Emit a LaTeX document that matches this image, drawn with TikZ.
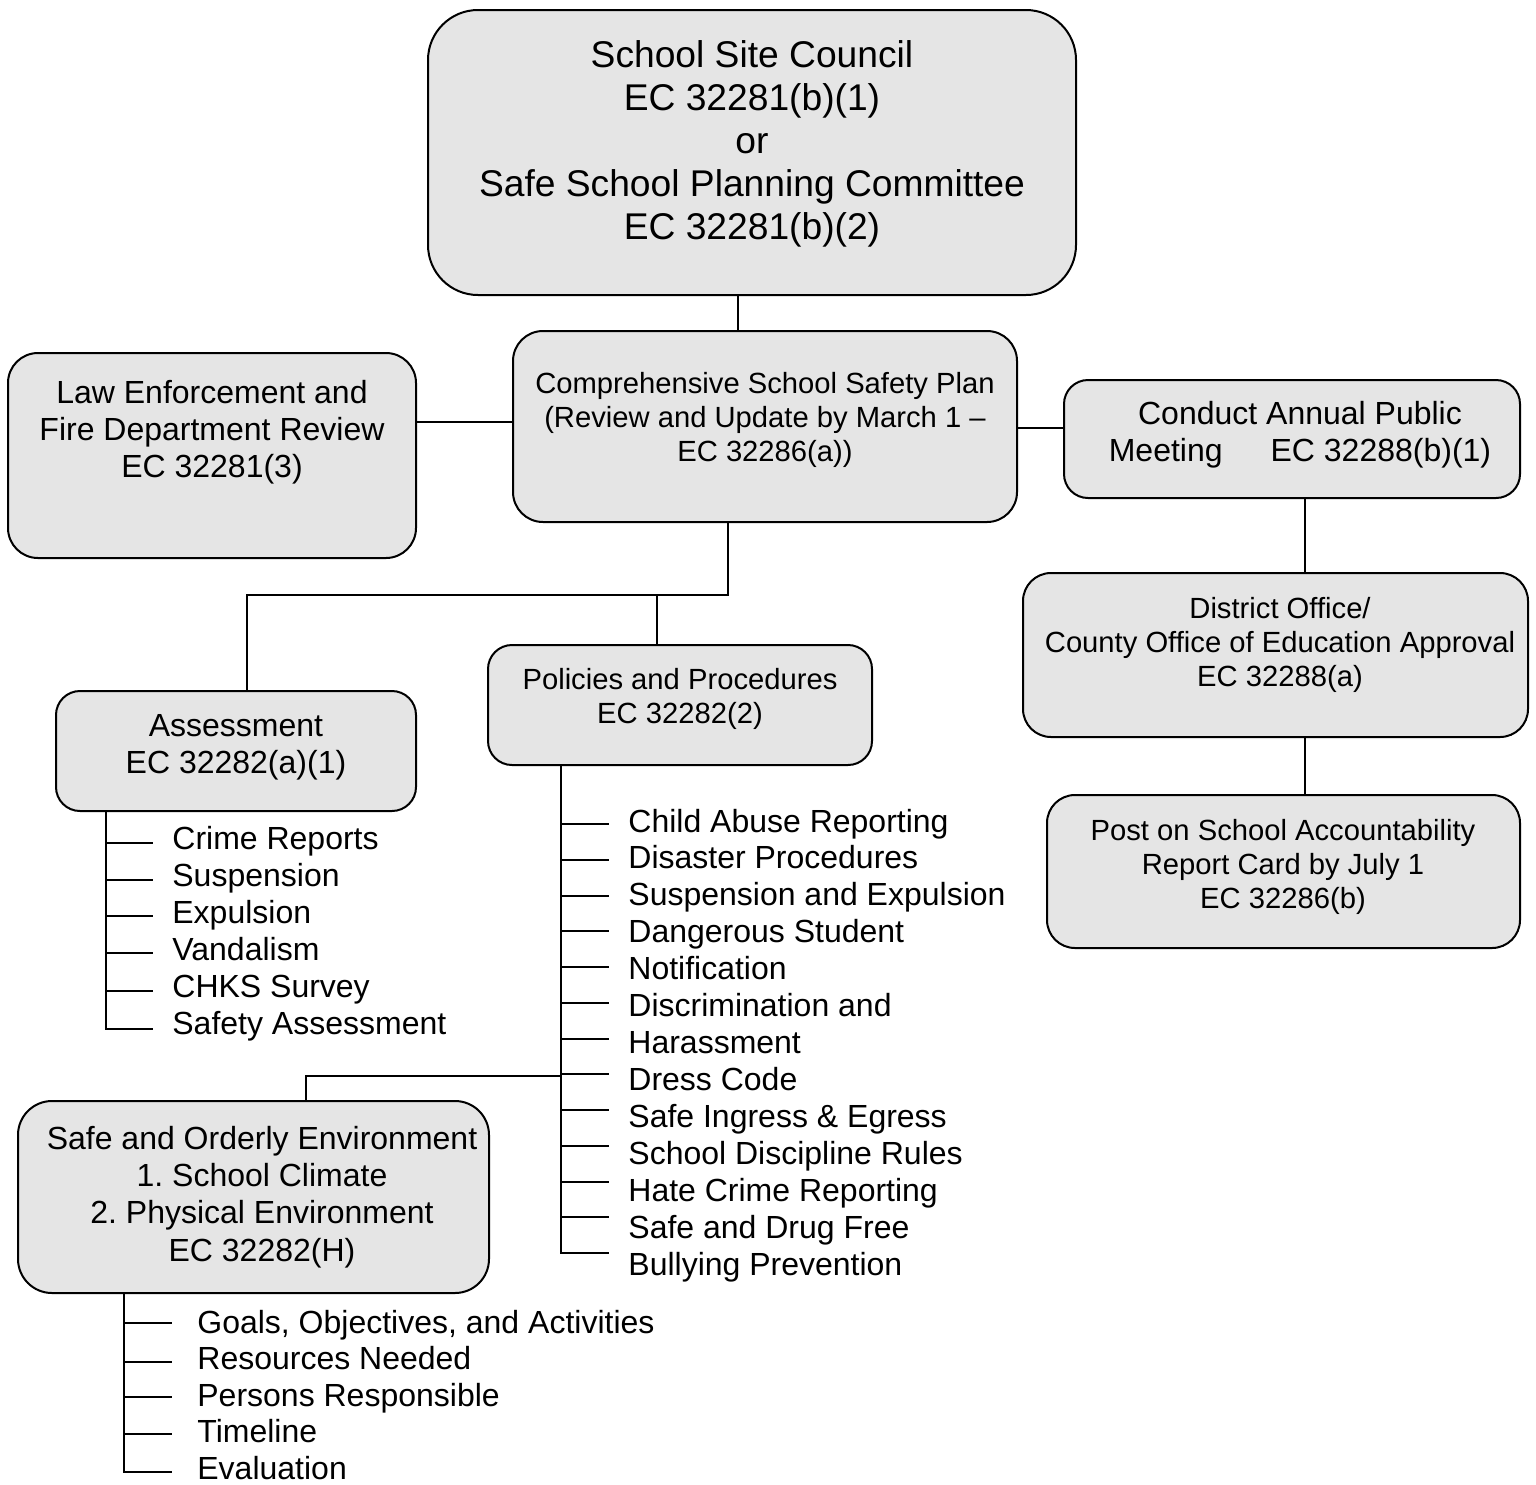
\documentclass[tikz,border=0pt]{standalone}
\usepackage{fontspec}
\setmainfont{Liberation Sans}
\definecolor{boxgray}{RGB}{229,229,229}
\frenchspacing
\begin{document}
\begin{tikzpicture}[x=0.5pt,y=-0.5pt,
  box/.style={draw=black,line width=1pt,fill=boxgray,rounded corners=#1,inner sep=0pt,outer sep=0pt,shape=rectangle},
  box/.default=12pt,
  tL/.style={font=\fontsize{18.6}{21.5}\selectfont,align=center,inner sep=0pt},
  tM/.style={font=\fontsize{16}{18.6}\selectfont,align=center,inner sep=0pt},
  tS/.style={font=\fontsize{14.6}{17}\selectfont,align=center,inner sep=0pt},
  item/.style={font=\fontsize{16}{18.5}\selectfont,anchor=base west,inner sep=0pt},
  conn/.style={line width=1pt}]
\useasboundingbox (0,0) rectangle (1536,1484);

% boxes
\node[box=25pt,minimum width=324pt,minimum height=142.5pt] (top) at (752,152.5) {};
\node[tL] (topt) at (752,144) {School Site Council\\EC 32281(b)(1)\\or\\Safe School Planning Committee\\EC 32281(b)(2)};

\node[box=15pt,minimum width=252pt,minimum height=95.5pt] (comp) at (765,426.5) {};
\node[tS] (compt) at (765,420) {Comprehensive School Safety Plan\\(Review and Update by March 1 --\\EC 32286(a))};

\node[box=15pt,minimum width=204pt,minimum height=102.5pt] (law) at (212,455.5) {};
\node[tM] (lawt) at (212,432) {Law Enforcement and\\Fire Department Review\\EC 32281(3)};

\node[box=12pt,minimum width=228pt,minimum height=59pt] (conduct) at (1292,439) {};
\node[tM] (conductt) at (1300,435) {Conduct Annual Public\\Meeting\hspace{1.5em}EC 32288(b)(1)};

\node[box=12pt,minimum width=180pt,minimum height=60pt] (assess) at (236,751) {};
\node[tM] (assesst) at (236,747) {Assessment\\EC 32282(a)(1)};

\node[box=12pt,minimum width=192pt,minimum height=60pt] (policies) at (680,705) {};
\node[tS] (policiest) at (680,699) {Policies and Procedures\\EC 32282(2)};

\node[box=14pt,minimum width=252.5pt,minimum height=82pt] (district) at (1275.5,655) {};
\node[tS] (districtt) at (1280,645) {District Office/\\County Office of Education Approval\\EC 32288(a)};

\node[box=14pt,minimum width=236.5pt,minimum height=76.5pt] (post) at (1283.5,871.5) {};
\node[tS] (postt) at (1283,867) {Post on School Accountability\\Report Card by July 1\\EC 32286(b)};

\node[box=17pt,minimum width=235.5pt,minimum height=96pt] (safe) at (253.5,1197) {};
\node[tM] (safet) at (262,1197) {Safe and Orderly Environment\\1. School Climate\\2. Physical Environment\\EC 32282(H)};

% connectors
\coordinate (tc) at (738,313);
\draw[conn] (top.south -| tc) -- (comp.north -| tc);
\coordinate (lc) at (460,422);
\draw[conn] (law.east |- lc) -- (comp.west |- lc);
\coordinate (cc) at (1040,428);
\draw[conn] (comp.east |- cc) -- (conduct.west |- cc);
\coordinate (cx) at (1305,530);
\draw[conn] (conduct.south -| cx) -- (district.north -| cx);
\draw[conn] (district.south -| cx) -- (post.north -| cx);

\coordinate (cd) at (728,595);
\coordinate (al) at (247,595);
\coordinate (pl) at (657,595);
\draw[conn] (comp.south -| cd) -- (cd) -- (al) -- (assess.north -| al);
\draw[conn] (pl) -- (policies.north -| pl);

% assessment list
\coordinate (aV) at (106,1029);
\draw[conn] (assess.south -| aV) -- (aV) -- ++(47,0);
\foreach \y in {843,880,916,953,991} \draw[conn] (106,\y) -- ++(47,0);
\foreach \t [count=\i] in {Crime Reports,Suspension,Expulsion,Vandalism,CHKS Survey,Safety Assessment}
  \node[item] (ai\i) at (172,{849+37*(\i-1)}) {\t};

% policies list
\coordinate (pV) at (561,1253);
\draw[conn] (policies.south -| pV) -- (pV) -- ++(48,0);
\foreach \k in {0,...,11} \draw[conn] (561,{824+35.75*\k}) -- ++(48,0);
\foreach \t [count=\i] in {Child Abuse Reporting,Disaster Procedures,Suspension and Expulsion,Dangerous Student,Notification,Discrimination and,Harassment,Dress Code,Safe Ingress \& Egress,School Discipline Rules,Hate Crime Reporting,Safe and Drug Free,Bullying Prevention}
  \node[item] (pi\i) at (628,{832+36.92*(\i-1)}) {\t};

% join to safe box
\coordinate (jn) at (306,1076);
\draw[conn] (561,1076) -- (jn) -- (safe.north -| jn);

% safe list
\coordinate (sV) at (124,1472);
\draw[conn] (safe.south -| sV) -- (sV) -- ++(48,0);
\foreach \y in {1323,1362,1397,1434} \draw[conn] (124,\y) -- ++(48,0);
\foreach \t [count=\i] in {{Goals, Objectives, and Activities},Resources Needed,Persons Responsible,Timeline,Evaluation}
  \node[item] (si\i) at (197,{1333+36.5*(\i-1)}) {\t};
\end{tikzpicture}
\end{document}
